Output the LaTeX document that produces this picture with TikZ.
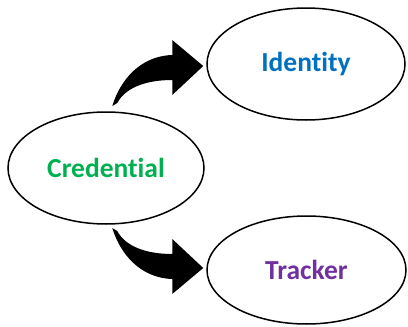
\documentclass[tikz,border=0pt]{standalone}
\usepackage{fontspec}
\setmainfont{Carlito}[Ligatures=CommonOff]
\usetikzlibrary{shapes.geometric}
\definecolor{credgreen}{RGB}{0,176,80}
\definecolor{identblue}{RGB}{0,112,192}
\definecolor{trackpurple}{RGB}{112,48,160}
\tikzset{
  ellnode/.style = {ellipse, draw=black, line width=1.5pt, inner sep=0pt, font=\fontsize{27.5}{32}\selectfont\bfseries},
  % one ellipse per role
  ell_C/.style = {ellnode, text=credgreen, minimum width=196pt, minimum height=112pt},
  ell_I/.style = {ellnode, text=identblue, minimum width=198pt, minimum height=112pt},
  ell_T/.style = {ellnode, text=trackpurple, minimum width=199pt, minimum height=108pt},
  % bent block arrow, tip at the origin
  bentarrow/.pic = {
    \fill[black] (0,0) -- (-31,29) -- (-31,14)
      .. controls (-58,14) and (-78,22) .. (-86,37) -- (-91,40)
      .. controls (-83,14) and (-63,-10) .. (-31,-11) -- (-31,-26) -- cycle;
  }
}

\begin{document}
\begin{tikzpicture}[x=1pt,y=-1pt]
    \useasboundingbox (0,0) rectangle (408,327);
    % Left node:
    \node [ell_C] (cred) at (106,168) {Credential};
    % Right nodes:
    \node [ell_I] (ident) at (306,64) {Identity};
    \node [ell_T] (track) at (306.5,270) {Tracker};
    % Arrows:
    \pic [xshift=-3pt, yshift=-2pt] at (ident.west) {bentarrow};
    \pic [xshift=-3pt, yshift=2pt, yscale=-1] at (track.west) {bentarrow};
\end{tikzpicture}
\end{document}
